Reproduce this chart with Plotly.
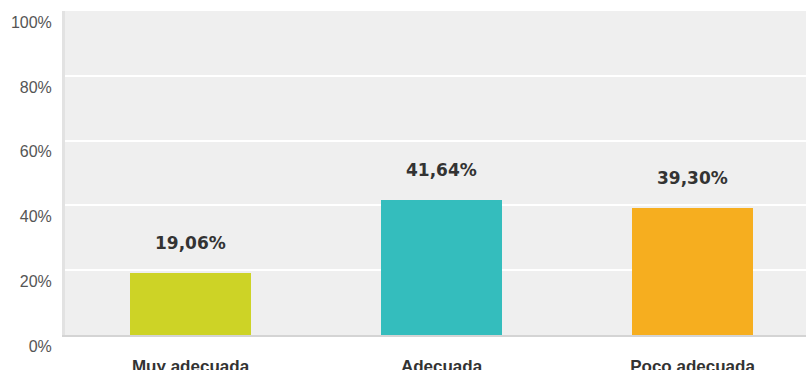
import plotly.graph_objects as go

# Survey results: share of answers per rating
categories = ["Muy adecuada", "Adecuada", "Poco adecuada"]
percentages = [19.06, 41.64, 39.30]
bar_colors = ["#cdd326", "#34bdbd", "#f6ae1f"]
tick_values = [0, 20, 40, 60, 80, 100]
tick_labels = ["0%", "20%", "40%", "60%", "80%", "100%"]


def fmt_pct(v):
    return f"{v:.2f}".replace(".", ",") + "%"


fig = go.Figure(
    go.Bar(
        x=categories,
        y=percentages,
        marker=dict(color=bar_colors, line=dict(width=0)),
        width=0.482,
        hoverinfo="skip",
    )
)

# value labels above each bar
for cat, val in zip(categories, percentages):
    fig.add_annotation(
        x=cat,
        y=val,
        text=fmt_pct(val),
        showarrow=False,
        yanchor="middle",
        yshift=30,
        font=dict(family="DejaVu Sans", size=17, color="#333333", weight="bold"),
    )

fig.update_layout(
    width=806,
    height=370,
    margin=dict(l=65, r=0, t=11, b=35),
    paper_bgcolor="white",
    plot_bgcolor="#efefef",
    showlegend=False,
    bargap=0,
)

fig.update_xaxes(
    range=[-0.5, 2.452],
    automargin=False,
    showgrid=False,
    showline=True,
    linecolor="#d4d4d4",
    linewidth=2,
    ticks="",
    ticklabelstandoff=15,
    tickfont=dict(family="Liberation Sans", size=17, color="#333333", weight="bold"),
    fixedrange=True,
)

fig.update_yaxes(
    range=[0, 100],
    automargin=False,
    tickvals=tick_values,
    ticktext=tick_labels,
    ticklabelposition="outside bottom",
    showgrid=True,
    gridcolor="#ffffff",
    gridwidth=2,
    zeroline=False,
    showline=True,
    linecolor="#e2e2e2",
    linewidth=3,
    ticks="",
    ticklabelstandoff=7,
    tickfont=dict(family="Liberation Sans", size=16, color="#555555"),
    fixedrange=True,
)

fig.write_html("out.html", config={"displayModeBar": False})
